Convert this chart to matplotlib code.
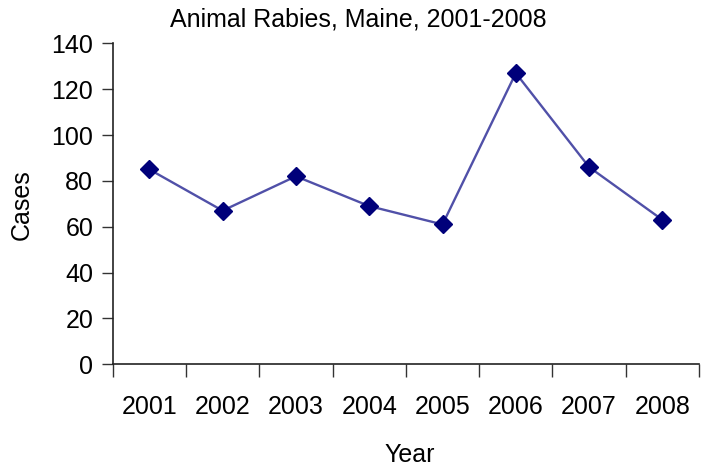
import matplotlib.pyplot as plt
from matplotlib.ticker import FixedLocator, NullFormatter

plt.rcParams['font.family'] = ['Liberation Sans', 'DejaVu Sans']

years = ['2001', '2002', '2003', '2004', '2005', '2006', '2007', '2008']
cases = [85, 67, 82, 69, 61, 127, 86, 63]
y_ticks = [0, 20, 40, 60, 80, 100, 120, 140]

fig = plt.figure(figsize=(7.02, 4.70), dpi=100)
ax = fig.add_axes([0.1605, 0.2249, 0.8353, 0.6830])

x = list(range(len(years)))
ax.plot(x, cases, color='#5050a8', linewidth=1.7, marker='D', markersize=9,
        markerfacecolor='#00007a', markeredgecolor='#00007a', zorder=3)

ax.set_xlim(-0.5, len(years) - 0.5)
ax.set_ylim(0, 140)
ax.set_yticks(y_ticks)

# category boundaries get the tick marks, labels sit in between
ax.xaxis.set_major_locator(FixedLocator([i - 0.5 for i in range(len(years) + 1)]))
ax.xaxis.set_major_formatter(NullFormatter())
ax.xaxis.set_minor_locator(FixedLocator(x))
ax.set_xticklabels(years, minor=True)
ax.tick_params(axis='x', which='major', direction='out', length=9, width=1, color='#333333')
ax.tick_params(axis='x', which='minor', length=0, pad=22, labelsize=18)
ax.tick_params(axis='y', direction='out', length=8, width=1, color='#333333', pad=6, labelsize=18)

for side in ['top', 'right']:
    ax.spines[side].set_visible(False)
for side in ['left', 'bottom']:
    ax.spines[side].set_color('#222222')
    ax.spines[side].set_linewidth(1.2)

fig.text(0.51, 0.958, 'Animal Rabies, Maine, 2001-2008', ha='center', va='center', fontsize=18)
fig.text(0.584, 0.032, 'Year', ha='center', va='center', fontsize=18)
fig.text(0.031, 0.564, 'Cases', ha='center', va='center', rotation=90, fontsize=18)

fig.savefig('out.png', dpi=100)
